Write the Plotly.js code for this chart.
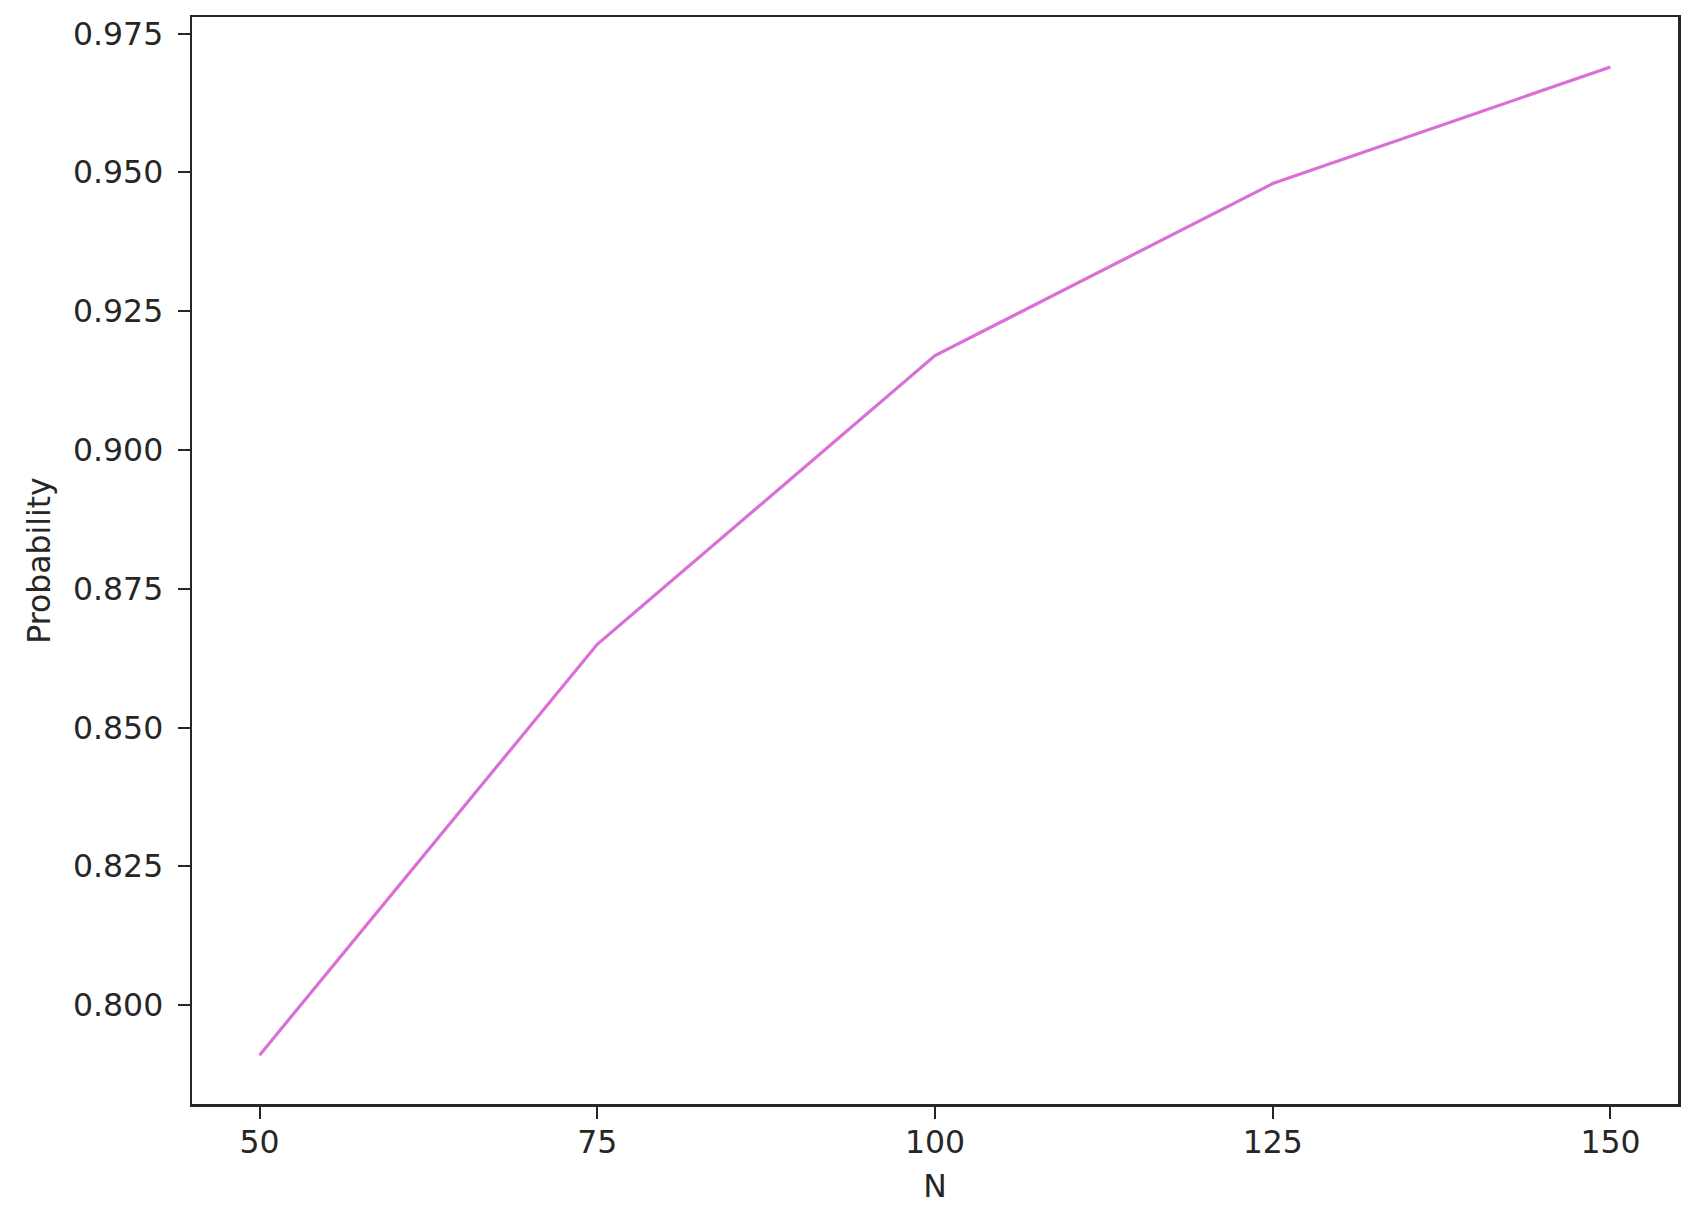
<!DOCTYPE html>
<html>
<head>
<meta charset="utf-8">
<script src="https://cdn.plot.ly/plotly-3.0.1.min.js"></script>
<style>
  html, body { margin: 0; padding: 0; background: #fff; }
  #chart { width: 1706px; height: 1221px; }
</style>
</head>
<body>
<div id="chart"></div>
<script>
// Probability vs N, single orchid line, matplotlib-like frame
const nValues = [50, 75, 100, 125, 150];
const probValues = [0.791, 0.865, 0.917, 0.948, 0.969];
const xTicks = [50, 75, 100, 125, 150];
const yTicks = [0.800, 0.825, 0.850, 0.875, 0.900, 0.925, 0.950, 0.975];

const font = { family: 'DejaVu Sans, sans-serif', size: 31.5, color: '#262626' };
const axisBase = {
    showline: true, mirror: true, linecolor: '#262626', linewidth: 2.5,
    ticks: 'outside', ticklen: 12, tickwidth: 2, tickcolor: '#262626',
    showgrid: false, zeroline: false, tickfont: font
};

Plotly.newPlot('chart', [{
    x: nValues, y: probValues, type: 'scatter', mode: 'lines',
    line: { color: '#da70d6', width: 3.2 }
}], {
    width: 1706, height: 1221,
    paper_bgcolor: '#fff', plot_bgcolor: '#fff',
    margin: { l: 192, r: 28, t: 17, b: 117 },
    showlegend: false,
    xaxis: Object.assign({}, axisBase, {
        range: [45, 155], tickvals: xTicks, ticktext: xTicks.map(String),
        ticklabelstandoff: -3,
        title: { text: 'N', font: font, standoff: 16 }
    }),
    yaxis: Object.assign({}, axisBase, {
        range: [0.7822, 0.9780], tickvals: yTicks, ticktext: yTicks.map(v => v.toFixed(3)),
        ticklabelstandoff: 8,
        title: { text: 'Probability', font: font, standoff: 13 }
    })
}, { displayModeBar: false, staticPlot: true });
</script>
</body>
</html>
